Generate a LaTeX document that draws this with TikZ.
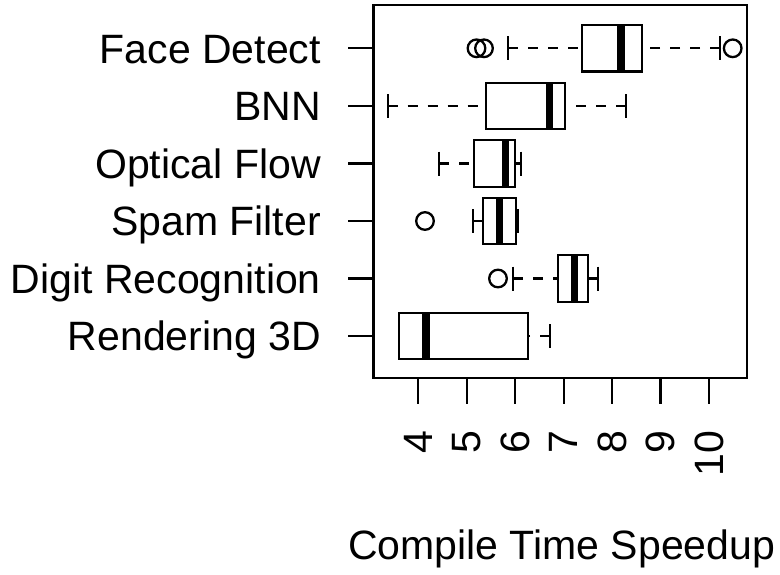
\documentclass[tikz,border=0pt]{standalone}
\usepackage{fontspec}
\setmainfont{Liberation Sans}
\begin{document}
\begin{tikzpicture}[x=1pt,y=-1pt,line width=2.3pt,
  whisk/.style={dash pattern=on 10pt off 10pt},
  capline/.style={},
  boxst/.style={fill=white},
  medline/.style={line width=7.5pt},
  outl/.style={},
  lab/.style={font=\fontsize{41}{49}\selectfont,inner sep=0pt},
  ticklab/.style={font=\fontsize{41}{49}\selectfont,inner sep=0pt,rotate=90,anchor=east}]
\useasboundingbox (0,0) rectangle (780,574);
% boxes
\foreach \y/\cl/\bl/\md/\br/\cr in {48.3/508/582.3/621.2/641.7/720,
  106/387.7/485.7/549.5/565/625.7,
  163.5/439.3/474/505.3/515/521,
  221/473.3/483.3/499.7/515.7/517.5,
  278.5/513.3/557.7/574.7/588.3/598.3,
  336/399.3/399.3/425.8/528.3/550}{
  \draw[whisk] (\cl,\y) -- (\bl,\y);
  \draw[whisk] (\cr,\y) -- (\br,\y);
  \draw[capline] (\cl,\y-12) -- (\cl,\y+12);
  \draw[capline] (\cr,\y-12) -- (\cr,\y+12);
  \draw[boxst] (\bl,\y-23.2) rectangle (\br,\y+23.2);
  \draw[medline] (\md,\y-23.2) -- (\md,\y+23.2);
}
% outliers
\draw[outl] (476.5,48.3) circle[radius=8.8];
\draw[outl] (484,48.3) circle[radius=8.8];
\draw[outl] (732.7,48.3) circle[radius=8.8];
\draw[outl] (425,221) circle[radius=8.8];
\draw[outl] (498,278.5) circle[radius=8.8];
% frame
\draw (373.5,5.3) rectangle (746.7,377.7);
% y ticks and labels
\foreach \y/\t/\n in {48.3/Face Detect/a, 106/BNN/b, 163.5/Optical Flow/c, 221/Spam Filter/d, 278.5/Digit Recognition/e, 336/Rendering 3D/f}{
  \draw (348.3,\y) -- (373.5,\y);
  \node[lab,anchor=base east] (lab\n) at (322,\y+14.8) {\t};
}
% x ticks and labels
\foreach \v in {4,...,10}{
  \pgfmathsetmacro{\xx}{418.3+48.45*(\v-4)}
  \draw (\xx,377.7) -- (\xx,404);
  \node[ticklab] (tk\v) at (\xx,430) {\v};
}
\node[lab,anchor=base] (xlab) at (561.7,559.3) {Compile Time Speedup};
\end{tikzpicture}
\end{document}
